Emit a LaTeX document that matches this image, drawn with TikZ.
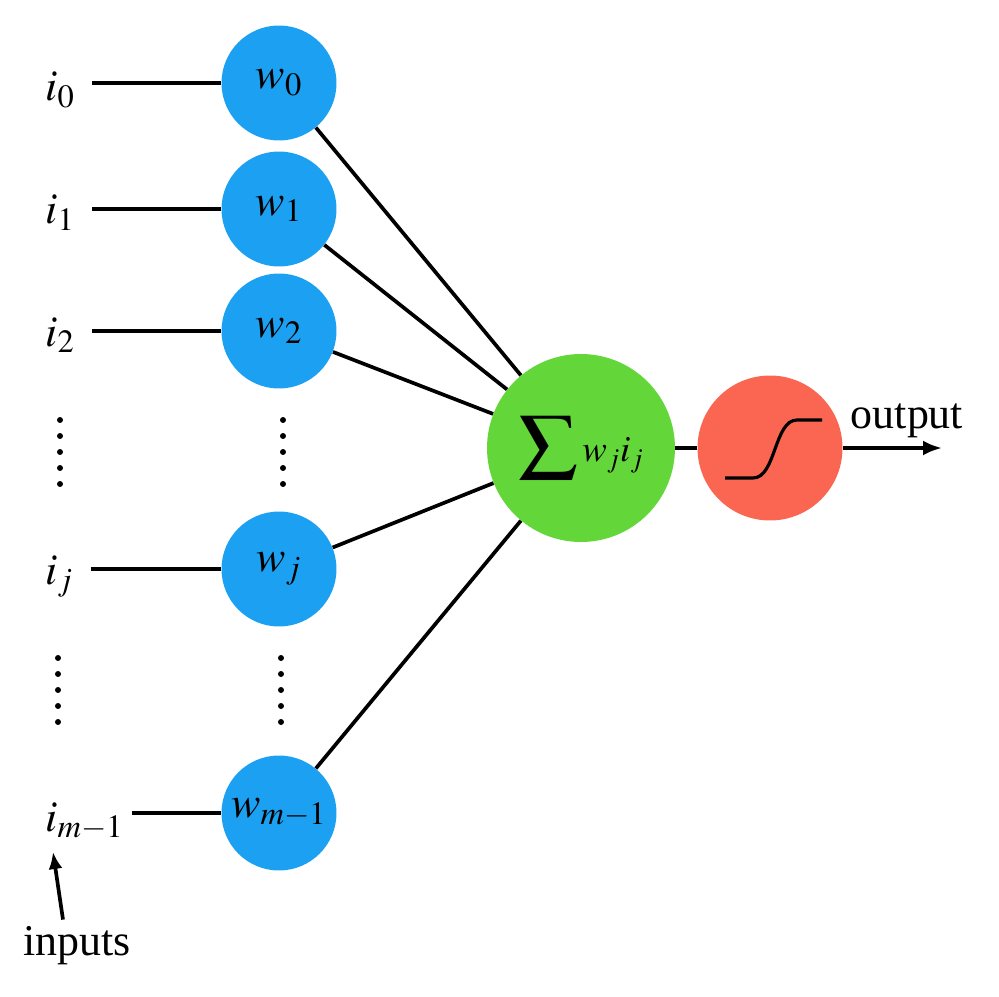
\documentclass[tikz,border=0pt]{standalone}
\usepackage{mathptmx}
\usepackage{fontspec}
\setmainfont{Liberation Serif}
\usetikzlibrary{positioning}
\usetikzlibrary{arrows.meta}
\usetikzlibrary{calc}

\definecolor{wblue}{RGB}{28,160,242}
\definecolor{sgreen}{RGB}{99,214,58}
\definecolor{ared}{RGB}{250,102,82}

\begin{document}
\begin{tikzpicture}[
    x=0.02cm, y=-0.02cm,
    font=\fontsize{25}{30}\selectfont,
    weight/.style={circle, fill=wblue, minimum size=2.3cm, inner sep=0pt},
    sumnode/.style={circle, fill=sgreen, minimum size=3.76cm, inner sep=0pt},
    act/.style={circle, fill=ared, minimum size=2.9cm, inner sep=0pt},
    inlabel/.style={anchor=base west, inner sep=0pt},
    link/.style={line width=2.1pt}
]
    \useasboundingbox (0,0) rectangle (999,996);

    % Weights
    \node[weight] (W0) at (279, 83) {$w_0$};
    \node[weight] (W1) at (279, 209) {$w_1$};
    \node[weight] (W2) at (279, 331) {$w_2$};
    \node[weight] (WJ) at (279, 569) {$w_j$};
    \node[weight] (WM) at (279, 813) {$w_{m-1}$};

    % Inputs
    \node[inlabel] (I0) at (45, 101) {$i_0$};
    \node[inlabel] (I1) at (45, 224) {$i_1$};
    \node[inlabel] (I2) at (45, 346) {$i_2$};
    \node[inlabel] (IJ) at (45, 584) {$i_j$};
    \node[inlabel] (IM) at (45, 831) {$i_{m-1}$};

    \draw[link, shorten <=0.34cm] (I0.east |- W0) -- (W0);
    \draw[link, shorten <=0.34cm] (I1.east |- W1) -- (W1);
    \draw[link, shorten <=0.34cm] (I2.east |- W2) -- (W2);
    \draw[link, shorten <=0.34cm] (IJ.east |- WJ) -- (WJ);
    \draw[link, shorten <=0.16cm] (IM.east |- WM) -- (WM);

    % Dots between the rows
    \fill (60,420) circle[radius=1.7pt] (60,436) circle[radius=1.7pt] (60,452) circle[radius=1.7pt] (60,468) circle[radius=1.7pt] (60,484) circle[radius=1.7pt];
    \fill (283,420) circle[radius=1.7pt] (283,436) circle[radius=1.7pt] (283,452) circle[radius=1.7pt] (283,468) circle[radius=1.7pt] (283,484) circle[radius=1.7pt];
    \fill (58,658) circle[radius=1.7pt] (58,674) circle[radius=1.7pt] (58,690) circle[radius=1.7pt] (58,706) circle[radius=1.7pt] (58,722) circle[radius=1.7pt];
    \fill (281,658) circle[radius=1.7pt] (281,674) circle[radius=1.7pt] (281,690) circle[radius=1.7pt] (281,706) circle[radius=1.7pt] (281,722) circle[radius=1.7pt];

    % Sum and activation
    \node[sumnode] (S) at (581, 448) {\raisebox{-0.36cm}{\resizebox{1.2cm}{1.26cm}{\raisebox{\depth}{$\sum$}}}\hspace{0.08cm}{\fontsize{21}{24}\selectfont$w_j i_j$}};
    \node[act] (A) at (770, 448) {};
    \draw[line width=1.8pt] ($(A)+(-45, 30)$) -- ($(A)+(-17, 30)$)
        .. controls ($(A)+(6, 30)$) and ($(A)+(4, -28)$) .. ($(A)+(27, -28)$) -- ($(A)+(52, -28)$);

    \draw[link] (W0) -- (S);
    \draw[link] (W1) -- (S);
    \draw[link] (W2) -- (S);
    \draw[link] (WJ) -- (S);
    \draw[link] (WM) -- (S);
    \draw[link] (S) -- (A);

    % Output
    \coordinate (O) at (942, 448);
    \draw[link, -{Latex[length=0.38cm, width=0.3cm]}] (A) -- (O);
    \node[anchor=base] (OUT) at (907, 428) {output};

    % Inputs marker
    \node[anchor=base, inner sep=0pt] (IN) at (77, 955) {inputs};
    \coordinate (IP) at (53, 852);
    \draw[link, -{Latex[length=0.34cm, width=0.28cm]}] ($(IN.north)+(-14, -6)$) -- (IP);
\end{tikzpicture}
\end{document}
